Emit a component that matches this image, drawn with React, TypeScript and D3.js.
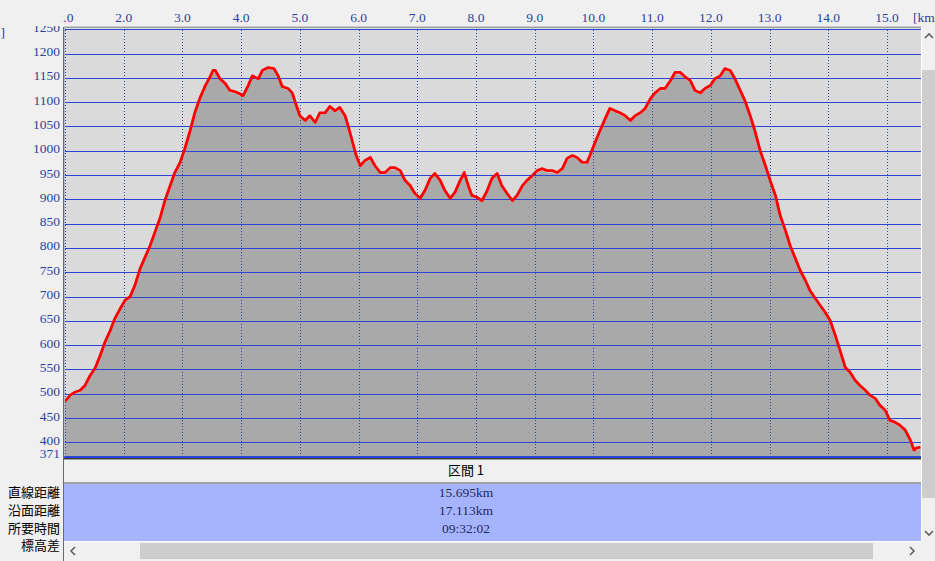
import React from 'react';
import * as d3 from 'd3';

// Distance along the route (km) and elevation (m)
const distanceKm = [
  1.00, 1.09, 1.17, 1.26, 1.34, 1.43, 1.51, 1.60, 1.68, 1.77, 1.85, 1.94, 2.02, 2.11, 2.19, 2.28,
  2.36, 2.45, 2.53, 2.62, 2.70, 2.79, 2.87, 2.96, 3.04, 3.13, 3.21, 3.30, 3.39, 3.47, 3.52, 3.56,
  3.64, 3.73, 3.81, 3.90, 3.98, 4.03, 4.12, 4.19, 4.29, 4.36, 4.46, 4.56, 4.63, 4.70, 4.80, 4.87,
  4.94, 5.00, 5.09, 5.17, 5.26, 5.34, 5.43, 5.51, 5.60, 5.68, 5.77, 5.82, 5.89, 5.96, 6.03, 6.11,
  6.20, 6.28, 6.37, 6.45, 6.54, 6.62, 6.71, 6.79, 6.88, 6.96, 7.05, 7.13, 7.22, 7.30, 7.39, 7.47,
  7.56, 7.64, 7.73, 7.80, 7.87, 7.93, 8.02, 8.10, 8.19, 8.27, 8.36, 8.44, 8.53, 8.62, 8.70, 8.79,
  8.87, 8.96, 9.04, 9.13, 9.21, 9.30, 9.38, 9.47, 9.55, 9.64, 9.72, 9.81, 9.89, 9.94, 10.03, 10.11,
  10.20, 10.28, 10.37, 10.45, 10.54, 10.63, 10.71, 10.80, 10.88, 10.97, 11.05, 11.14, 11.22, 11.31,
  11.39, 11.48, 11.56, 11.65, 11.73, 11.82, 11.90, 11.99, 12.07, 12.16, 12.24, 12.33, 12.41, 12.50,
  12.58, 12.67, 12.75, 12.84, 12.93, 13.01, 13.10, 13.18, 13.27, 13.35, 13.44, 13.52, 13.61, 13.69,
  13.78, 13.86, 13.95, 14.03, 14.12, 14.20, 14.29, 14.37, 14.46, 14.54, 14.63, 14.71, 14.80, 14.88,
  14.97, 15.05, 15.14, 15.22, 15.31, 15.40, 15.46, 15.50, 15.57,
];
const elevationM = [
  484, 497, 503, 507, 517, 538, 552, 579, 606, 630, 655, 675, 692, 700, 723, 758,
  780, 805, 832, 862, 897, 928, 955, 976, 1004, 1041, 1078, 1109, 1134, 1152, 1165, 1165,
  1148, 1138, 1124, 1121, 1117, 1113, 1134, 1154, 1148, 1165, 1171, 1169, 1154, 1132, 1128, 1119,
  1093, 1072, 1062, 1072, 1058, 1078, 1078, 1091, 1082, 1089, 1072, 1052, 1021, 990, 969, 980,
  986, 969, 955, 955, 965, 965, 959, 939, 928, 912, 902, 918, 943, 953, 939, 918,
  902, 914, 939, 955, 928, 908, 904, 897, 918, 943, 953, 928, 912, 897, 908, 928,
  939, 949, 959, 963, 959, 959, 955, 963, 984, 990, 986, 976, 976, 990, 1018, 1041,
  1066, 1087, 1082, 1078, 1072, 1062, 1072, 1078, 1087, 1107, 1119, 1128, 1128, 1144,
  1161, 1161, 1152, 1144, 1124, 1119, 1128, 1134, 1148, 1154, 1169, 1165, 1148, 1124,
  1103, 1072, 1041, 1000, 969, 939, 908, 867, 836, 805, 778, 754, 733, 712,
  696, 682, 667, 651, 620, 589, 554, 544, 527, 517, 507, 497, 490, 476,
  466, 445, 441, 435, 425, 404, 384, 388, 390,
];

const yTicks = [400, 450, 500, 550, 600, 650, 700, 750, 800, 850, 900, 950, 1000, 1050, 1100, 1150, 1200, 1250];
const yMin = 371;
const xTicks = [1, 2, 3, 4, 5, 6, 7, 8, 9, 10, 11, 12, 13, 14, 15];

const sectionTitle = '区間 1';
const rowLabels = ['直線距離', '沿面距離', '所要時間', '標高差'];
const rowValues = ['15.695km', '17.113km', '09:32:02'];

const W = 935;
const H = 561;
const plotL = 64;
const plotR = 921;
const plotT = 27;

const blue = '#2b45d6';
const labelBlue = '#2f3f9c';
const serif = '"Liberation Serif", "DejaVu Serif", serif';
const cjk = '"Noto Sans CJK JP", "Noto Sans", sans-serif';

export default function App() {
  const x = d3.scaleLinear().domain([1, 15]).range([65, 887]);
  const y = d3.scaleLinear().domain([400, 1200]).range([442.3, 53.5]);
  const pts = distanceKm.map((d, i) => [d, elevationM[i]] as [number, number]);
  const line = d3.line<[number, number]>().x(d => x(d[0])).y(d => y(d[1]));
  const area = d3
    .area<[number, number]>()
    .x(d => x(d[0]))
    .y0(y(yMin))
    .y1(d => y(d[1]) + 2);
  const yBase = y(yMin);

  return (
    <svg
      width={W}
      height={H}
      style={{ position: 'absolute', left: 0, top: 0, background: '#f0f0f0' }}
    >
      <defs>
        <clipPath id="plotClip">
          <rect x={plotL + 1} y={plotT + 1} width={plotR - plotL - 1} height={yBase - plotT - 1} />
        </clipPath>
        <clipPath id="xLabClip">
          <rect x={62} y={0} width={W - 62} height={plotT} />
        </clipPath>
        <clipPath id="yLabClip">
          <rect x={0} y={26} width={plotL} height={H - 26} />
        </clipPath>
        <clipPath id="tableClip">
          <rect x={plotL} y={484} width={plotR - plotL} height={57} />
        </clipPath>
      </defs>

      <rect x={0} y={0} width={W} height={H} fill="#f0f0f0" />

      {/* plot background */}
      <rect x={plotL} y={plotT} width={plotR - plotL} height={yBase - plotT + 1} fill="#dadada" />

      <g clipPath="url(#plotClip)">
        <path d={area(pts) || ''} fill="#a9a9a9" />
        {yTicks.map(t => (
          <line key={t} x1={plotL} x2={plotR} y1={Math.round(y(t)) + 0.5} y2={Math.round(y(t)) + 0.5} stroke={blue} strokeWidth={1} />
        ))}
        {xTicks.map(t => (
          <line
            key={t}
            x1={Math.round(x(t)) + 0.5}
            x2={Math.round(x(t)) + 0.5}
            y1={plotT}
            y2={yBase}
            stroke="#3346b0"
            strokeWidth={1}
            strokeDasharray="1,2"
          />
        ))}
        <path d={line(pts) || ''} fill="none" stroke="#ff0000" strokeWidth={2.8} strokeLinejoin="round" />
      </g>

      {/* baseline and frame */}
      <line x1={plotL} x2={plotR} y1={yBase + 0.5} y2={yBase + 0.5} stroke={blue} strokeWidth={2} />
      <line x1={plotL} x2={plotR} y1={458.5} y2={458.5} stroke="#3a3a3a" strokeWidth={1} />
      <line x1={plotL} x2={plotR} y1={459.5} y2={459.5} stroke="#a0a0a0" strokeWidth={1} />
      <line x1={plotL} x2={plotR} y1={27.5} y2={27.5} stroke="#a0a0a0" strokeWidth={1} />
      <line x1={plotL} x2={plotR} y1={26.5} y2={26.5} stroke="#c8c8c8" strokeWidth={1} />

      {/* header row */}
      <rect x={plotL} y={460} width={plotR - plotL} height={23} fill="#f0f0f0" />
      <text x={466} y={475} textAnchor="middle" fontFamily={cjk} fontSize={13} fill="#000">
        {sectionTitle}
      </text>
      <line x1={plotL} x2={plotR} y1={483} y2={483} stroke="#a0a0a0" strokeWidth={2} />

      {/* table body */}
      <rect x={plotL} y={484} width={plotR - plotL} height={57} fill="#a6b4fe" />
      <g clipPath="url(#tableClip)">
        {rowValues.map((v, i) => (
          <text key={v} x={466} y={497 + i * 18} textAnchor="middle" fontFamily={serif} fontSize={13.5} fill="#1e2a5a">
            {v}
          </text>
        ))}
      </g>
      <line x1={plotL} x2={plotR} y1={541.5} y2={541.5} stroke="#ffffff" strokeWidth={1} />

      {/* row labels */}
      {rowLabels.map((l, i) => (
        <text key={l} x={60} y={497 + i * 17.8} textAnchor="end" fontFamily={cjk} fontSize={13} fill="#000">
          {l}
        </text>
      ))}

      {/* left vertical frame */}
      <line x1={63.5} x2={63.5} y1={plotT} y2={H} stroke="#6a6a6a" strokeWidth={1} />
      <line x1={64.5} x2={64.5} y1={plotT} y2={yBase} stroke="#b8b8b8" strokeWidth={1} />

      {/* y labels */}
      <g clipPath="url(#yLabClip)">
        {yTicks.map(t => (
          <text key={t} x={60} y={y(t) + 2.5} textAnchor="end" fontFamily={serif} fontSize={13.5} fill={labelBlue}>
            {t}
          </text>
        ))}
        <text x={60} y={yBase + 2} textAnchor="end" fontFamily={serif} fontSize={13.5} fill={labelBlue}>
          {yMin}
        </text>
      </g>
      <text x={5} y={37} textAnchor="end" fontFamily={serif} fontSize={13.5} fill={labelBlue}>
        [m]
      </text>

      {/* x labels */}
      <g clipPath="url(#xLabClip)">
        {xTicks.map(t => (
          <text key={t} x={x(t)} y={22} textAnchor="middle" fontFamily={serif} fontSize={13.5} fill={labelBlue}>
            {t.toFixed(1)}
          </text>
        ))}
        <text x={913} y={22} textAnchor="start" fontFamily={serif} fontSize={13.5} fill={labelBlue}>
          [km]
        </text>
      </g>

      {/* vertical scrollbar */}
      <rect x={plotR} y={plotT} width={W - plotR} height={541 - plotT} fill="#f0f0f0" />
      <line x1={plotR + 0.5} x2={plotR + 0.5} y1={plotT} y2={541} stroke="#ffffff" strokeWidth={1} />
      <rect x={922} y={70} width={13} height={428} fill="#cdcdcd" />
      <path d="M925,38 L929,34 L933,38" fill="none" stroke="#606060" strokeWidth={1.6} />
      <path d="M925,531 L929,535 L933,531" fill="none" stroke="#606060" strokeWidth={1.6} />

      {/* horizontal scrollbar */}
      <rect x={plotL + 1} y={542} width={plotR - plotL - 1} height={19} fill="#f0f0f0" />
      <rect x={140} y={543} width={733} height={16} fill="#cdcdcd" />
      <path d="M75,547 L71,551 L75,555" fill="none" stroke="#606060" strokeWidth={1.6} />
      <path d="M910,547 L914,551 L910,555" fill="none" stroke="#606060" strokeWidth={1.6} />
    </svg>
  );
}
